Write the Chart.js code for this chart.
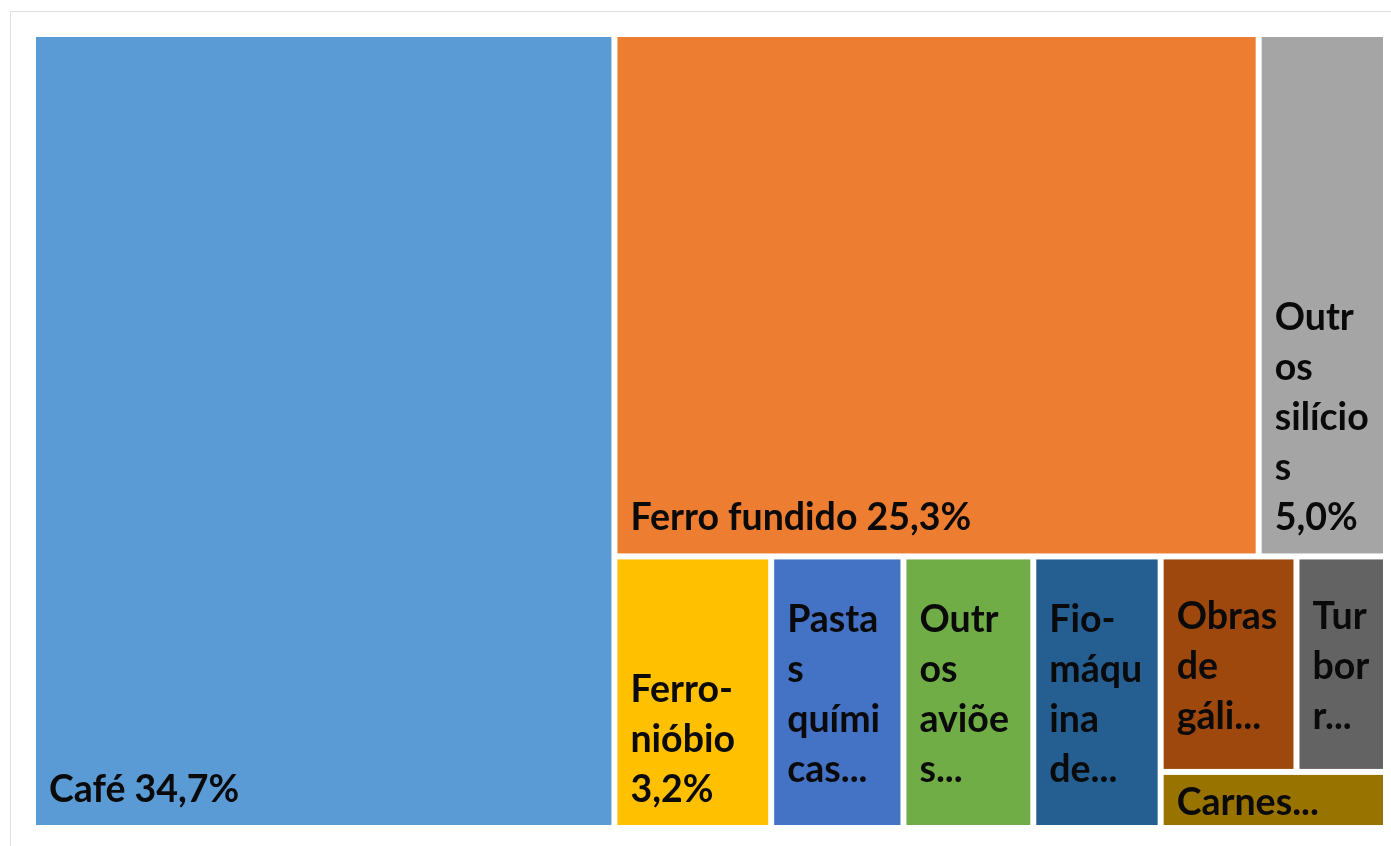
<!DOCTYPE html>
<html>
<head>
<meta charset="utf-8">
<script src="https://cdn.jsdelivr.net/npm/chart.js@4.4.1/dist/chart.umd.min.js"></script>
<style>
html,body{margin:0;padding:0;background:#ffffff;}
#wrap{width:1391px;height:846px;}
</style>
</head>
<body>
<div id="wrap"><canvas id="c" width="1391" height="846"></canvas></div>
<script>
// ---- data ----
const categories = ['Café','Ferro fundido','Outros silícios','Ferro-nióbio','Pastas químicas','Outros aviões','Fio-máquina de ferro','Obras de gálio','Turborreatores','Carnes bovinas'];
const shares = [34.7, 25.3, 5.0, 3.2, 2.7, 2.65, 2.6, 2.2, 1.45, 0.95];
const palette = ['#5B9BD5','#ED7D31','#A5A5A5','#FFC000','#4472C4','#70AD47','#255E91','#9E480E','#636363','#997300'];

// ---- style constants ----
const GAP = 6;
const FONT_SIZE = 37.5;
const FONT = 'bold ' + FONT_SIZE + 'px Lato, "Open Sans", sans-serif';
const LINE_H = 50;
const PAD_X = 13;
const TARGET_RATIO = 0.5; // preferred width/height of a tile

function fmtPct(v){ return v.toFixed(1).replace('.', ',') + '%'; }

// squarified layout in data units, aspect measured in pixels
function layoutTreemap(vals, kx, ky){
  const rects = new Array(vals.length);
  let reg = {x:0, y:0, w:100, h:100};
  let i = 0;
  const metric = r => { const a = (r.w*kx)/(r.h*ky); return Math.max(a/TARGET_RATIO, TARGET_RATIO/a); };
  const rowRects = (idx, remSum, reg, vertical) => {
    const rowSum = idx.reduce((s,k)=>s+vals[k],0);
    const out = [];
    if (vertical){
      const sw = reg.w*rowSum/remSum; let cy = reg.y;
      idx.forEach(k=>{ const hh = reg.h*vals[k]/rowSum; out.push({k, x:reg.x, y:cy, w:sw, h:hh}); cy += hh; });
    } else {
      const sh = reg.h*rowSum/remSum; let cx = reg.x;
      idx.forEach(k=>{ const ww = reg.w*vals[k]/rowSum; out.push({k, x:cx, y:reg.y, w:ww, h:sh}); cx += ww; });
    }
    return out;
  };
  while (i < vals.length){
    let remSum = 0; for (let k=i;k<vals.length;k++) remSum += vals[k];
    const vertical = reg.w*kx >= reg.h*ky;
    let row = [i];
    let best = Math.max(...rowRects(row, remSum, reg, vertical).map(metric));
    let j = i+1;
    while (j < vals.length){
      const cand = row.concat([j]);
      const w2 = Math.max(...rowRects(cand, remSum, reg, vertical).map(metric));
      if (w2 <= best){ row = cand; best = w2; j++; } else break;
    }
    const rr = rowRects(row, remSum, reg, vertical);
    rr.forEach(r=>{ rects[r.k] = r; });
    const rowSum = row.reduce((s,k)=>s+vals[k],0);
    if (vertical){ const sw = reg.w*rowSum/remSum; reg = {x:reg.x+sw, y:reg.y, w:reg.w-sw, h:reg.h}; }
    else { const sh = reg.h*rowSum/remSum; reg = {x:reg.x, y:reg.y+sh, w:reg.w, h:reg.h-sh}; }
    i = j;
  }
  return rects;
}

function wrapText(ctx, text, maxW){
  const tokens = [];
  text.split(' ').forEach((word, wi)=>{
    const parts = word.split(/(?<=-)/);
    parts.forEach((p, pi)=> tokens.push({t:p, sep: (pi===0 ? (wi===0?'':' ') : '')}));
  });
  const fits = s => ctx.measureText(s).width <= maxW;
  const lines = []; let cur = '';
  tokens.forEach(tok=>{
    const cand = cur ? cur + tok.sep + tok.t : tok.t;
    if (fits(cand)) { cur = cand; return; }
    if (cur) lines.push(cur);
    cur = '';
    if (fits(tok.t)) { cur = tok.t; return; }
    let s = '';
    for (const ch of tok.t){
      if (fits(s+ch) || s==='') s += ch; else { lines.push(s); s = ch; }
    }
    cur = s;
  });
  if (cur) lines.push(cur);
  return lines;
}

const treemapPlugin = {
  id: 'treemapTiles',
  beforeDraw(chart){
    const ctx = chart.ctx;
    ctx.save();
    ctx.strokeStyle = '#dedede';
    ctx.lineWidth = 1;
    ctx.strokeRect(10.5, 11.5, 1500, 1000);
    ctx.restore();
  },
  afterDatasetsDraw(chart){
    const ctx = chart.ctx;
    const xs = chart.scales.x, ys = chart.scales.y;
    const kx = Math.abs(xs.getPixelForValue(100) - xs.getPixelForValue(0)) / 100;
    const ky = Math.abs(ys.getPixelForValue(100) - ys.getPixelForValue(0)) / 100;
    const rects = layoutTreemap(shares, kx, ky);
    ctx.save();
    rects.forEach((r, k)=>{
      const x0 = xs.getPixelForValue(r.x) + GAP/2;
      const x1 = xs.getPixelForValue(r.x + r.w) - GAP/2;
      const y0 = ys.getPixelForValue(r.y) + GAP/2;
      const y1 = ys.getPixelForValue(r.y + r.h) - GAP/2;
      ctx.fillStyle = palette[k];
      ctx.fillRect(x0, y0, x1-x0, y1-y0);

      // label
      ctx.font = FONT;
      ctx.fillStyle = '#0a0a0a';
      ctx.textBaseline = 'alphabetic';
      ctx.textAlign = 'left';
      const maxW = (x1-x0) - 2*PAD_X;
      const label = categories[k] + ' ' + fmtPct(shares[k]);
      let lines = wrapText(ctx, label, maxW);
      const maxLines = Math.max(1, Math.floor(((y1-y0) - 20) / LINE_H));
      if (lines.length <= maxLines){
        const lastBase = y1 - 23;
        lines.forEach((ln, li)=>{
          ctx.fillText(ln, x0 + PAD_X, lastBase - (lines.length-1-li)*LINE_H);
        });
      } else {
        lines = lines.slice(0, maxLines);
        let last = lines[maxLines-1];
        while (last.length && ctx.measureText(last + '...').width > maxW) last = last.slice(0, -1);
        lines[maxLines-1] = last + '...';
        const top = (y0+y1)/2 - maxLines*LINE_H/2;
        lines.forEach((ln, li)=>{
          ctx.fillText(ln, x0 + PAD_X, top + li*LINE_H + LINE_H*0.8);
        });
      }
    });
    ctx.restore();
  }
};

new Chart(document.getElementById('c'), {
  type: 'scatter',
  data: { datasets: [{ label: 'Exportações', data: [] }] },
  options: {
    responsive: false,
    animation: false,
    devicePixelRatio: 1,
    layout: { padding: { left: 33, top: 34, right: 5, bottom: 18 } },
    plugins: { legend: { display: false }, tooltip: { enabled: false } },
    scales: {
      x: { type: 'linear', min: 0, max: 100, display: false },
      y: { type: 'linear', min: 0, max: 100, reverse: true, display: false }
    }
  },
  plugins: [treemapPlugin]
});
</script>
</body>
</html>
